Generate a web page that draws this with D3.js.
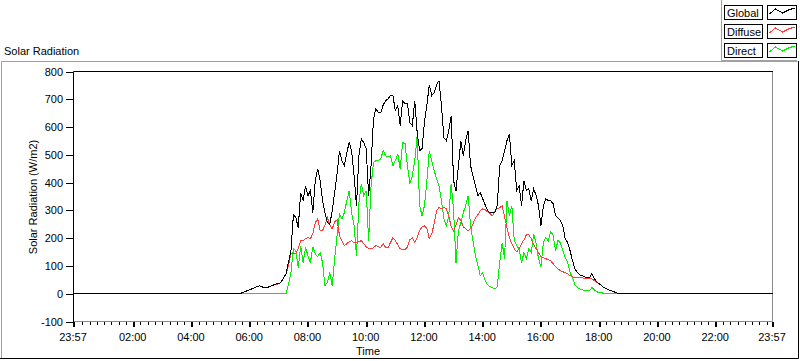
<!DOCTYPE html>
<html>
<head>
<meta charset="utf-8">
<script src="https://cdn.jsdelivr.net/npm/d3@7"></script>
<style>
  body { margin: 0; background: #fff; }
  svg text { font-family: "Liberation Sans", Arial, sans-serif; font-size: 11px; fill: #000; }
</style>
</head>
<body>
<div id="chart"></div>
<script>
// sample times in minutes after midnight (23:57 of the previous day = -3)
var times = [-3].concat(d3.range(340, 1121, 5), [1437]);

var globalValues = [0,
  0, 4, 7, 11, 14, 18, 22, 25, 29, 25,
  22, 22, 25, 29, 32, 36, 36, 43, 58, 72,
  115, 155, 284, 274, 238, 364, 335, 389, 353, 371,
  292, 407, 450, 407, 335, 292, 256, 250, 299, 364,
  432, 515, 479, 461, 508, 544, 515, 425, 317, 497,
  558, 544, 522, 353, 461, 630, 666, 652, 652, 680,
  695, 702, 713, 713, 659, 677, 605, 695, 684, 684,
  616, 605, 695, 580, 515, 522, 616, 680, 752, 713,
  724, 752, 767, 677, 562, 551, 587, 641, 407, 371,
  461, 551, 497, 551, 587, 461, 425, 389, 353, 364,
  342, 320, 299, 292, 292, 292, 317, 461, 479, 515,
  551, 576, 461, 479, 371, 389, 317, 407, 371, 378,
  335, 378, 353, 317, 245, 317, 342, 335, 335, 324,
  281, 274, 263, 245, 198, 184, 155, 119, 90, 76,
  68, 65, 61, 58, 58, 72, 54, 43, 36, 29,
  22, 18, 14, 11, 7, 4, 0,
0];

var diffuseValues = [0,
  0, 4, 7, 11, 14, 18, 22, 25, 29, 25,
  22, 22, 25, 29, 32, 34, 36, 43, 58, 72,
  101, 144, 144, 144, 162, 191, 191, 198, 202, 198,
  216, 256, 270, 227, 227, 248, 274, 248, 234, 259,
  266, 209, 191, 173, 180, 187, 191, 184, 184, 187,
  191, 180, 169, 162, 162, 166, 173, 169, 166, 180,
  166, 166, 184, 202, 191, 176, 162, 158, 158, 169,
  194, 202, 184, 202, 227, 241, 245, 234, 198, 216,
  252, 299, 310, 306, 310, 306, 281, 241, 227, 248,
  274, 263, 241, 234, 227, 234, 252, 274, 284, 299,
  306, 302, 295, 288, 281, 295, 306, 310, 317, 277,
  238, 202, 180, 162, 151, 162, 180, 194, 212, 212,
  198, 176, 162, 148, 133, 130, 126, 122, 119, 108,
  97, 90, 83, 79, 76, 72, 65, 61, 58, 58,
  58, 58, 54, 54, 54, 54, 47, 40, 36, 29,
  22, 18, 14, 11, 7, 4, 0,
0];

var directValues = [0,
  0, 0, 0, 0, 0, 0, 0, 0, 0, 0,
  0, 0, 0, 0, 0, 0, 0, 0, 0, 0,
  36, 76, 162, 155, 94, 173, 112, 166, 137, 112,
  169, 144, 133, 148, 112, 29, 40, 76, 29, 126,
  209, 288, 270, 292, 335, 371, 292, 245, 137, 328,
  396, 353, 371, 191, 389, 472, 479, 479, 486, 515,
  497, 493, 497, 461, 479, 504, 450, 544, 540, 461,
  396, 425, 479, 569, 317, 281, 317, 407, 515, 479,
  443, 414, 389, 335, 270, 245, 281, 396, 299, 112,
  227, 256, 292, 317, 353, 245, 191, 137, 101, 65,
  76, 47, 32, 25, 22, 18, 25, 112, 184, 126,
  335, 281, 317, 191, 173, 162, 112, 148, 126, 162,
  148, 216, 180, 126, 97, 184, 202, 191, 223, 212,
  155, 191, 184, 155, 130, 112, 76, 58, 32, 22,
  18, 14, 11, 11, 11, 22, 14, 7, 4, 4,
  0, 0, 0, 0, 0, 0, 0,
0];

var seriesNames = ["Global", "Diffuse", "Direct"];
var seriesColors = ["#000000", "#ff3c3c", "#00ee00"];

var yTicks = [-100, 0, 100, 200, 300, 400, 500, 600, 700, 800];
var xTickValues = [-3, 120, 240, 360, 480, 600, 720, 840, 960, 1080, 1200, 1320, 1437];
var xTickLabels = ["23:57", "02:00", "04:00", "06:00", "08:00", "10:00", "12:00",
                   "14:00", "16:00", "18:00", "20:00", "22:00", "23:57"];

(function() {
var width = 800, height = 361;
var plotLeft = 73.5, plotRight = 772.5, plotTop = 71.5, plotBottom = 321.5;

var svg = d3.select("#chart").append("svg")
    .attr("width", width)
    .attr("height", height);

// outer panel borders
svg.append("path").attr("d", "M1.5,359V61.5H797.5").attr("fill", "none").attr("stroke", "#a0a0a0");
svg.append("path").attr("d", "M0,358.5H798.5V61").attr("fill", "none").attr("stroke", "#000");
svg.append("path").attr("d", "M721.5,0V60.5H797").attr("fill", "none").attr("stroke", "#a0a0a0");

svg.append("text").attr("x", 4).attr("y", 55).text("Solar Radiation");

var x = d3.scaleLinear().domain([-3, 1437]).range([plotLeft, plotRight]);
var y = d3.scaleLinear().domain([-100, 800]).range([plotBottom, plotTop]);

// plot frame: right and bottom grey, top and left black
svg.append("path").attr("d", "M" + plotLeft + "," + plotBottom + "H" + plotRight + "V" + plotTop)
    .attr("fill", "none").attr("stroke", "#8a8a8a");
svg.append("path").attr("d", "M" + plotLeft + "," + (plotBottom + 0.5) + "V" + plotTop + "H" + (plotRight + 0.5))
    .attr("fill", "none").attr("stroke", "#000");

// y axis (plain hyphen for negatives, like the original)
var yAxis = svg.append("g")
    .attr("transform", "translate(" + (plotLeft - 0.5) + ",0)")
    .call(d3.axisLeft(y).tickValues(yTicks).tickSize(7).tickPadding(3)
        .tickFormat(function(d) { return String(d); }));
yAxis.select(".domain").remove();
yAxis.selectAll("line").attr("stroke", "#000").attr("shape-rendering", "crispEdges");
yAxis.selectAll("text").attr("font-family", null).attr("font-size", null).attr("fill", null);

// x axis: minor ticks every 15 minutes, major ticks with labels
var minorTicks = d3.range(0, 1440, 15).filter(function(m) { return m % 120 !== 0; });
var xMinor = svg.append("g")
    .attr("transform", "translate(0," + (plotBottom + 0.5) + ")")
    .call(d3.axisBottom(x).tickValues(minorTicks).tickSize(3).tickFormat(""));
xMinor.select(".domain").remove();
xMinor.selectAll("line").attr("stroke", "#000").attr("shape-rendering", "crispEdges");

var xAxis = svg.append("g")
    .attr("transform", "translate(0," + (plotBottom + 0.5) + ")")
    .call(d3.axisBottom(x).tickValues(xTickValues).tickSize(5).tickPadding(6)
        .tickFormat(function(d, i) { return xTickLabels[i]; }));
xAxis.select(".domain").remove();
xAxis.selectAll("line").attr("stroke", "#000").attr("stroke-width", 2).attr("shape-rendering", "crispEdges");
xAxis.selectAll("text").attr("font-family", null).attr("font-size", null).attr("fill", null)
    .attr("dx", -1);

// axis titles
svg.append("text").attr("x", 368).attr("y", 355).attr("text-anchor", "middle").text("Time");
svg.append("text").attr("transform", "translate(37,197) rotate(-90)")
    .attr("text-anchor", "middle").text("Solar Radiation (W/m2)");

// plots
var line = d3.line()
    .x(function(d, i) { return x(times[i]); })
    .y(function(d) { return y(d); });

var allSeries = [globalValues, diffuseValues, directValues];
var drawOrder = [2, 1, 0];   // Global ends up on top
var plotArea = svg.append("g");
drawOrder.forEach(function(k) {
    plotArea.append("path")
        .datum(allSeries[k])
        .attr("d", line)
        .attr("fill", "none")
        .attr("stroke", seriesColors[k])
        .attr("stroke-width", 1)
        .attr("shape-rendering", "crispEdges");
});

// legend
var swatchPattern = [[2, 9], [8, 4], [15, 8], [21, 5], [27, 3]];
var legendRows = svg.append("g").selectAll("g")
    .data(seriesNames)
    .enter().append("g")
    .attr("transform", function(d, i) { return "translate(0," + (5 + i * 19) + ")"; });

legendRows.append("rect")
    .attr("x", 724.5).attr("y", 0.5).attr("width", 38).attr("height", 14)
    .attr("fill", "#fff").attr("stroke", "#000");
legendRows.append("text")
    .attr("x", 727).attr("y", 11.5)
    .text(function(d) { return d; });
legendRows.append("rect")
    .attr("x", 767.5).attr("y", 0.5).attr("width", 29).attr("height", 14)
    .attr("fill", "#fff").attr("stroke", "#000");
legendRows.append("path")
    .attr("d", function() {
        return d3.line().x(function(p) { return 767.5 + p[0]; }).y(function(p) { return p[1]; })(swatchPattern);
    })
    .attr("fill", "none")
    .attr("stroke", function(d, i) { return seriesColors[i]; })
    .attr("shape-rendering", "crispEdges");
})();
</script>
</body>
</html>
